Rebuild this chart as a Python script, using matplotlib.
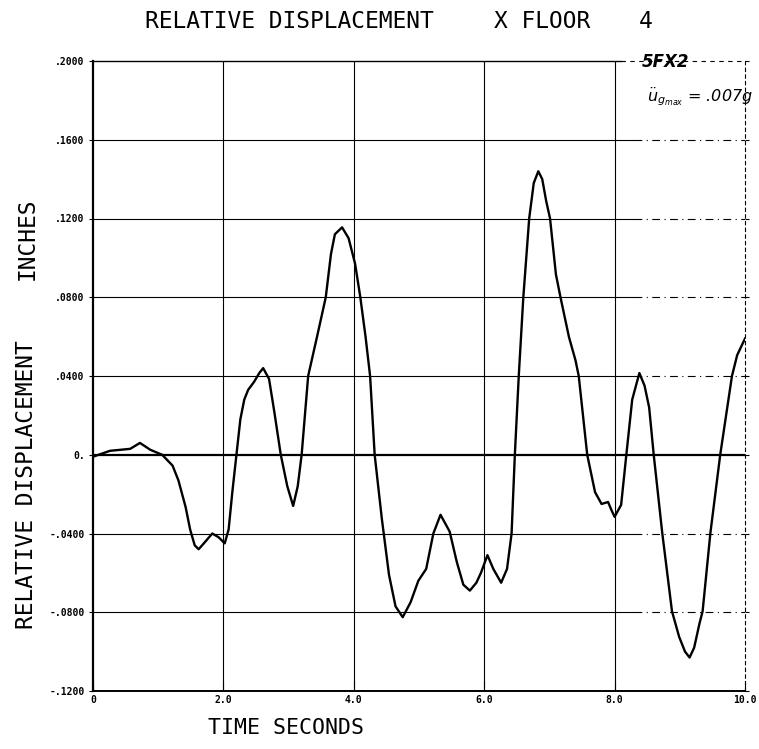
import matplotlib
matplotlib.use("Agg")
import matplotlib.pyplot as plt

# Relative displacement time history, floor 4, X direction
time_s = [0.0, 0.26, 0.57, 0.72, 0.88, 1.06, 1.22, 1.31, 1.42, 1.49, 1.56, 1.62, 1.70,
          1.83, 1.93, 2.02, 2.08, 2.14, 2.20, 2.26, 2.32, 2.38, 2.47, 2.55, 2.61, 2.70,
          2.78, 2.88, 2.98, 3.07, 3.14, 3.20, 3.30, 3.45, 3.57, 3.65, 3.71, 3.82, 3.92,
          4.02, 4.10, 4.18, 4.25, 4.32, 4.43, 4.54, 4.64, 4.75, 4.87, 4.99, 5.11, 5.22,
          5.33, 5.47, 5.58, 5.68, 5.78, 5.88, 5.95, 6.05, 6.14, 6.26, 6.35, 6.42, 6.47,
          6.53, 6.60, 6.69, 6.76, 6.83, 6.89, 6.95, 7.01, 7.10, 7.17, 7.30, 7.40, 7.45,
          7.58, 7.70, 7.80, 7.90, 7.95, 8.00, 8.10, 8.18, 8.27, 8.38, 8.46, 8.53, 8.60,
          8.73, 8.88, 8.99, 9.08, 9.15, 9.22, 9.30, 9.35, 9.47, 9.62, 9.80, 9.88, 10.0]
disp_in = [-0.001, 0.002, 0.003, 0.006, 0.0025, 0.0, -0.0055, -0.013, -0.0265, -0.038,
           -0.046, -0.048, -0.045, -0.040, -0.042, -0.045, -0.038, -0.018, 0.0, 0.018,
           0.028, 0.033, 0.037, 0.0415, 0.044, 0.0385, 0.022, 0.0, -0.016, -0.026,
           -0.016, 0.0, 0.040, 0.062, 0.080, 0.102, 0.112, 0.1155, 0.110, 0.097, 0.080,
           0.060, 0.040, 0.0, -0.0325, -0.061, -0.077, -0.0825, -0.075, -0.064, -0.058,
           -0.040, -0.0305, -0.039, -0.0545, -0.066, -0.069, -0.065, -0.060, -0.051,
           -0.058, -0.065, -0.058, -0.040, 0.0, 0.040, 0.080, 0.120, 0.138, 0.144, 0.140,
           0.129, 0.120, 0.0916, 0.080, 0.0598, 0.048, 0.040, 0.0, -0.019, -0.025,
           -0.024, -0.028, -0.0315, -0.0255, 0.0, 0.028, 0.0415, 0.035, 0.024, 0.0,
           -0.0395, -0.0795, -0.0925, -0.100, -0.103, -0.098, -0.086, -0.0795, -0.0395,
           0.0, 0.040, 0.0506, 0.059]

y_ticks = [-0.12, -0.08, -0.04, 0.0, 0.04, 0.08, 0.12, 0.16, 0.20]
y_tick_labels = ["-.1200", "-.0800", "-.0400", "0.", ".0400", ".0800", ".1200", ".1600", ".2000"]
x_ticks = [0, 2, 4, 6, 8, 10]
x_tick_labels = ["0", "2.0", "4.0", "6.0", "8.0", "10.0"]

PLOTTER = "DejaVu Sans Mono"
W, H = 759, 749
fig = plt.figure(figsize=(W / 100, H / 100), dpi=100)
fig.patch.set_facecolor("white")

left, right, top, bottom = 93, 745, 61, 691
ax = fig.add_axes([left / W, 1 - bottom / H, (right - left) / W, (bottom - top) / H])
ax.set_xlim(0, 10)
ax.set_ylim(-0.12, 0.20)

# grid: solid over most of the frame, broken towards the right edge
for yv in y_ticks[1:-1]:
    if yv == 0:
        ax.axhline(yv, color="black", lw=1.6, zorder=1)
    else:
        ax.plot([0, 8.3], [yv, yv], color="black", lw=0.8, zorder=1)
        ax.plot([8.3, 10], [yv, yv], color="black", lw=0.8, ls=(0, (7, 4, 1, 4)), zorder=1)
for xv in x_ticks[1:-1]:
    ax.axvline(xv, color="black", lw=0.8, zorder=1)

ax.plot(time_s, disp_in, color="black", lw=1.7, solid_joinstyle="round", zorder=3)

# frame: heavy left/bottom, partial top, dashed right
ax.spines["left"].set_linewidth(1.6)
ax.spines["bottom"].set_linewidth(1.4)
ax.spines["top"].set_visible(False)
ax.plot([0, 8.1], [0.20, 0.20], color="black", lw=1.0, clip_on=False, zorder=2)
ax.plot([8.1, 10], [0.20, 0.20], color="black", lw=0.8, ls=(0, (4, 4)), clip_on=False, zorder=2)
ax.spines["right"].set_linewidth(0.8)
ax.spines["right"].set_linestyle((0, (3, 3)))

ax.set_yticks(y_ticks)
ax.set_yticklabels(y_tick_labels, fontsize=7, fontweight="bold", family=PLOTTER)
ax.set_xticks(x_ticks)
ax.set_xticklabels(x_tick_labels, fontsize=7, fontweight="bold", family=PLOTTER)
ax.tick_params(axis="y", which="both", length=3, direction="out", pad=3, width=0.8,
               right=True, labelright=False)
ax.tick_params(axis="x", length=7, direction="in", pad=3, width=0.8)

# titles and labels
fig.text(145 / W, 1 - 21 / H, "RELATIVE DISPLACEMENT", fontsize=16.5, family=PLOTTER,
         ha="left", va="center")
fig.text(494 / W, 1 - 21 / H, "X FLOOR", fontsize=16.5, family=PLOTTER, ha="left", va="center")
fig.text(646 / W, 1 - 21 / H, "4", fontsize=16.5, family=PLOTTER, ha="center", va="center")

fig.text(27 / W, 1 - 485 / H, "RELATIVE DISPLACEMENT", fontsize=16.5, family=PLOTTER,
         rotation=90, ha="center", va="center")
fig.text(27 / W, 1 - 239 / H, "INCHES", fontsize=16.5, family=PLOTTER, rotation=90,
         ha="center", va="center")

fig.text(286 / W, 1 - 728 / H, "TIME SECONDS", fontsize=15.5, family=PLOTTER,
         ha="center", va="center")

# handwritten notes
fig.text(666 / W, 1 - 62 / H, "5FX2", fontsize=12, style="italic", fontweight="bold",
         ha="center", va="center")
fig.text(647 / W, 1 - 97 / H, r"$\ddot{u}_{g_{max}}$ = .007g", fontsize=11.5, style="italic",
         ha="left", va="center")

fig.savefig("out.png", dpi=100, facecolor="white")
